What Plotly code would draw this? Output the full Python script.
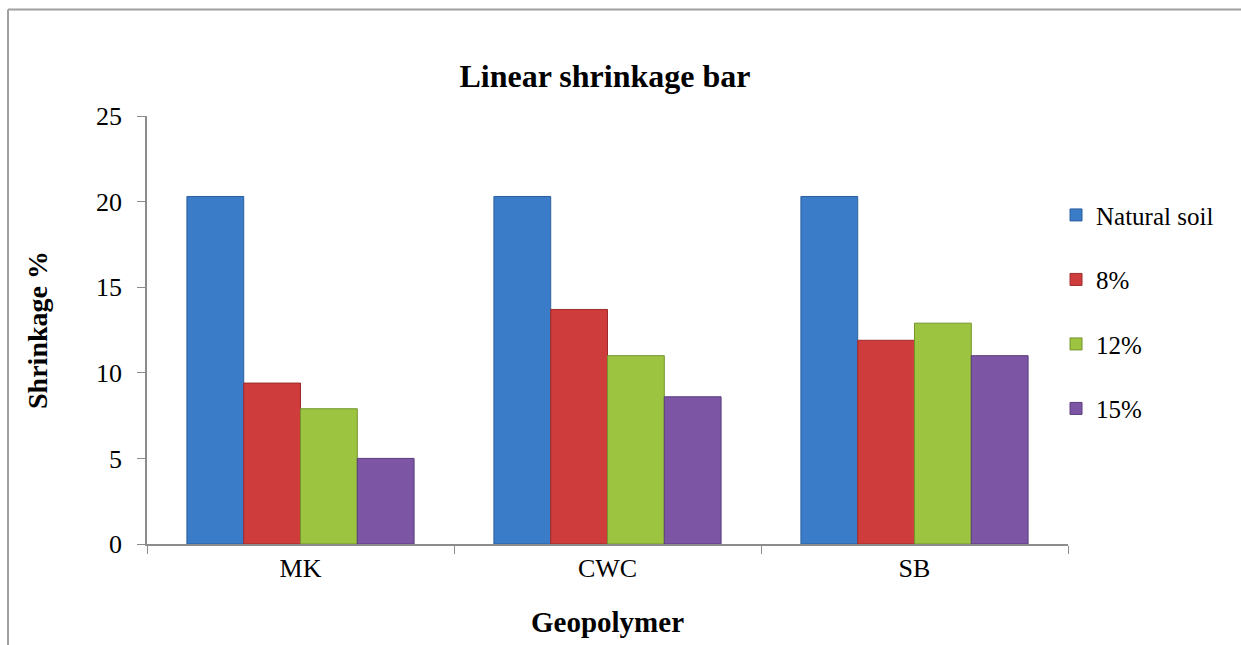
import plotly.graph_objects as go

categories = ["MK", "CWC", "SB"]
series_names = ["Natural soil", "8%", "12%", "15%"]
natural_soil = [20.3, 20.3, 20.3]
pct_8 = [9.4, 13.7, 11.9]
pct_12 = [7.9, 11.0, 12.9]
pct_15 = [5.0, 8.6, 11.0]

colors = ["#3b7cc8", "#cf3c3c", "#9cc440", "#7c56a4"]
edge_colors = ["#2b5f9e", "#9e2b2b", "#74942c", "#5a3c7c"]

FONT = "Liberation Serif"

fig = go.Figure()
for i, (name, vals) in enumerate(zip(series_names, [natural_soil, pct_8, pct_12, pct_15])):
    fig.add_trace(go.Bar(
        x=categories, y=vals, name=name,
        legendgroup=name,
        marker=dict(color=colors[i], line=dict(color=edge_colors[i], width=1)),
    ))

fig.update_layout(
    width=1241, height=645,
    paper_bgcolor="white", plot_bgcolor="white",
    margin=dict(l=147, r=173, t=116, b=99),
    barmode="group", bargap=0.26, bargroupgap=0,
    title=dict(text="<b>Linear shrinkage bar</b>", x=0.4875, xanchor="center",
               y=0.883, yanchor="middle",
               font=dict(family=FONT, size=32, color="black")),
    font=dict(family=FONT, size=26, color="black"),
    legend=dict(x=0.987, xanchor="left", y=0.822, yanchor="top",
                traceorder="grouped", tracegroupgap=29,
                font=dict(family=FONT, size=25, color="black"),
                itemwidth=30),
    showlegend=True,
)
fig.update_xaxes(
    showline=True, linecolor="#8c8c8c", linewidth=1.5,
    ticks="outside", tickson="boundaries", ticklen=8, tickcolor="#8c8c8c",
    tickfont=dict(family=FONT, size=26), showgrid=False,
    title=dict(text="<b>Geopolymer</b>", font=dict(family=FONT, size=29), standoff=30),
)
fig.update_yaxes(
    range=[0, 25], dtick=5, showline=True, linecolor="#8c8c8c", linewidth=1.5,
    ticks="outside", ticklen=8, tickcolor="#8c8c8c", showgrid=False, zeroline=False,
    tickfont=dict(family=FONT, size=26), ticklabelstandoff=10,
    title=dict(text="<b>Shrinkage %</b>", font=dict(family=FONT, size=28), standoff=40),
)

# chart frame on the left and top edges
fig.add_shape(type="line", xref="paper", yref="paper", x0=-0.1509, x1=-0.1509, y0=-0.3, y1=1.2488,
              line=dict(color="#a0a0a0", width=2))
fig.add_shape(type="line", xref="paper", yref="paper", x0=-0.1509, x1=1.3, y0=1.2488, y1=1.2488,
              line=dict(color="#a0a0a0", width=2))

fig.write_html("out.html")
